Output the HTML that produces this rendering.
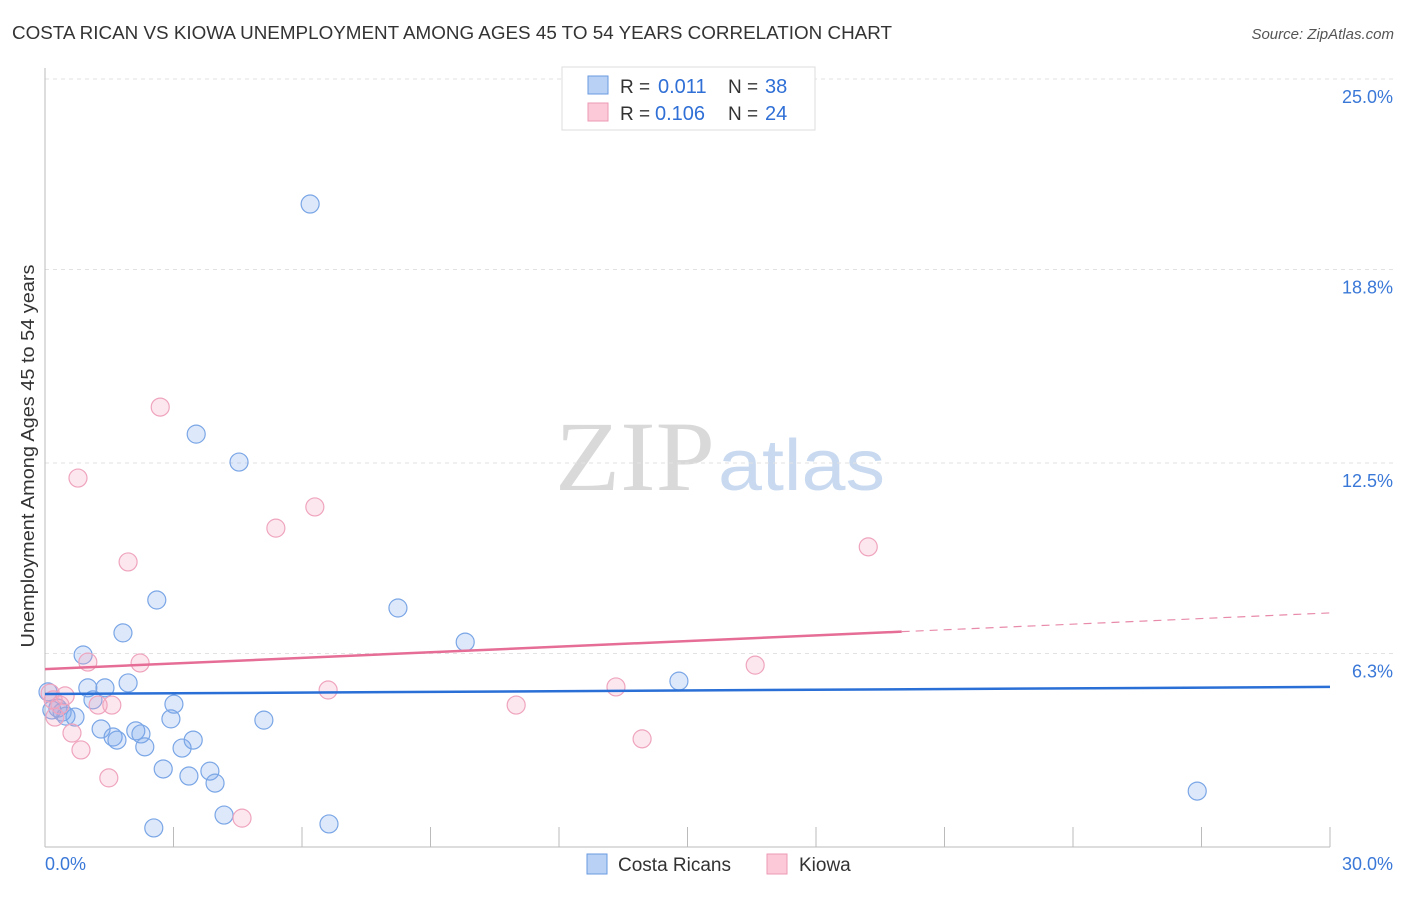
<!DOCTYPE html>
<html><head><meta charset="utf-8"><style>
body{margin:0;background:#fff;font-family:"Liberation Sans",sans-serif;}
svg text{font-family:"Liberation Sans",sans-serif;}
</style></head><body>
<svg width="1406" height="892" xmlns="http://www.w3.org/2000/svg">
<text x="12" y="39" font-size="18" fill="#333" textLength="880" lengthAdjust="spacingAndGlyphs">COSTA RICAN VS KIOWA UNEMPLOYMENT AMONG AGES 45 TO 54 YEARS CORRELATION CHART</text>
<text x="1394" y="39" font-size="15" fill="#555" font-style="italic" text-anchor="end">Source: ZipAtlas.com</text>
<g>
<text x="555" y="490" font-size="100" fill="#d9d9d9" style="font-family:'Liberation Serif',serif" textLength="160" lengthAdjust="spacingAndGlyphs">ZIP</text>
<text x="718" y="490" font-size="72" fill="#c9daf0" textLength="167" lengthAdjust="spacingAndGlyphs">atlas</text>
</g>
<g id="grid"></g>
<g id="axes"></g>
<g id="marks"></g>
<text transform="translate(34,456) rotate(-90)" font-size="18" fill="#333" text-anchor="middle" textLength="383" lengthAdjust="spacingAndGlyphs">Unemployment Among Ages 45 to 54 years</text>
<g>
<rect x="562" y="67" width="253" height="63" fill="#fff" stroke="#ddd"/>
<rect x="588" y="76" width="20" height="18" fill="#b8d1f5" stroke="#6a9ae0"/>
<rect x="588" y="103" width="20" height="18" fill="#fbc9d8" stroke="#ee9ab6"/>
<text x="620" y="93" font-size="19" fill="#333">R =</text>
<text x="658" y="93" font-size="20" fill="#2f6fd6">0.011</text>
<text x="728" y="93" font-size="19" fill="#333">N =</text>
<text x="765" y="93" font-size="20" fill="#2f6fd6">38</text>
<text x="620" y="120" font-size="19" fill="#333">R =</text>
<text x="655" y="120" font-size="20" fill="#2f6fd6">0.106</text>
<text x="728" y="120" font-size="19" fill="#333">N =</text>
<text x="765" y="120" font-size="20" fill="#2f6fd6">24</text>
</g>
<g>
<rect x="587" y="854" width="20" height="20" fill="#b8d1f5" stroke="#6a9ae0"/>
<text x="618" y="871" font-size="19" fill="#333">Costa Ricans</text>
<rect x="767" y="854" width="20" height="20" fill="#fbc9d8" stroke="#ee9ab6"/>
<text x="799" y="871" font-size="19" fill="#333">Kiowa</text>
</g>
</svg>
<script>
const yTicks=[25.0,18.8,12.5,6.3];
const yTickLabels=["25.0%","18.8%","12.5%","6.3%"];
const xTicks=[0,3,6,9,12,15,18,21,24,27,30];
const blueX=[6.19,3.53,4.53,2.61,8.24,1.82,9.81,0.89,14.80,1.94,1.00,1.40,0.07,3.01,0.16,0.30,0.40,0.49,0.70,1.12,2.94,5.11,1.31,1.59,1.68,2.12,2.24,2.33,3.20,3.46,2.76,3.36,3.85,3.97,4.18,2.54,6.63,26.90];
const blueY=[20.93,13.44,12.53,8.04,7.78,6.97,6.67,6.25,5.40,5.34,5.18,5.18,5.05,4.65,4.46,4.52,4.39,4.26,4.23,4.79,4.17,4.13,3.84,3.58,3.48,3.78,3.68,3.26,3.22,3.48,2.54,2.31,2.47,2.08,1.04,0.62,0.75,1.82];
const pinkX=[2.69,0.77,6.30,5.39,1.94,19.22,1.00,2.22,16.58,6.61,13.33,0.47,11.00,1.24,1.56,0.23,0.63,0.84,13.94,1.49,4.60,0.12,0.19,0.35];
const pinkY=[14.32,12.01,11.07,10.38,9.28,9.77,6.02,5.99,5.92,5.11,5.21,4.92,4.62,4.62,4.62,4.23,3.71,3.16,3.52,2.25,0.94,5.01,4.79,4.62];
const blueTrend=[4.98,0.0077];
const pinkTrend=[5.79,0.061];
const pinkSolidEnd=20;
const NS="http://www.w3.org/2000/svg";
const X0=45,X1=1330,Y0=847,PXY=30.72;
const sx=v=>X0+(X1-X0)*v/30, sy=v=>Y0-v*PXY;
function mk(t,a,p){const e=document.createElementNS(NS,t);for(const k in a)e.setAttribute(k,a[k]);p.appendChild(e);return e;}
const grid=document.getElementById('grid'),axes=document.getElementById('axes'),marks=document.getElementById('marks');
yTicks.forEach((v,i)=>{
 const l=mk('line',{x1:X0,x2:1395,y1:sy(v),y2:sy(v),stroke:'#e2e2e2','stroke-dasharray':'4,4'},grid);
 
 
 const t=mk('text',{x:1393,y:sy(v)+24,'font-size':18,fill:'#3a78d8','text-anchor':'end'},grid);
 t.textContent=yTickLabels[i];
 
 
});
const xa=mk('line',{x1:X0,x2:X1,y1:Y0,y2:Y0,stroke:'#bbb'},axes);


const ya=mk('line',{x1:X0,x2:X0,y1:68,y2:Y0,stroke:'#bbb'},axes);


xTicks.forEach(v=>{
 const l=mk('line',{x1:sx(v),x2:sx(v),y1:827,y2:Y0,stroke:'#bbb'},axes);
 
 
});
const xl0=mk('text',{x:45,y:870,'font-size':18,fill:'#3a78d8'},axes);xl0.textContent='0.0%';


const xl1=mk('text',{x:1393,y:870,'font-size':18,fill:'#3a78d8','text-anchor':'end'},axes);xl1.textContent='30.0%';


blueX.forEach((v,i)=>{
 const c=mk('circle',{cx:sx(v),cy:sy(blueY[i]),r:9,fill:'rgba(120,165,235,0.25)',stroke:'#7aa6e6','stroke-width':1.2},marks);
 
 
});
pinkX.forEach((v,i)=>{
 const c=mk('circle',{cx:sx(v),cy:sy(pinkY[i]),r:9,fill:'rgba(245,160,188,0.25)',stroke:'#efa4be','stroke-width':1.2},marks);
 
 
});
const bt=mk('line',{x1:sx(0),x2:sx(30),y1:sy(blueTrend[0]),y2:sy(blueTrend[0]+blueTrend[1]*30),stroke:'#2a6fd6','stroke-width':2.5},marks);


const pt=mk('line',{x1:sx(0),x2:sx(pinkSolidEnd),y1:sy(pinkTrend[0]),y2:sy(pinkTrend[0]+pinkTrend[1]*pinkSolidEnd),stroke:'#e56d96','stroke-width':2.5},marks);


const pd=mk('line',{x1:sx(pinkSolidEnd),x2:sx(30),y1:sy(pinkTrend[0]+pinkTrend[1]*pinkSolidEnd),y2:sy(pinkTrend[0]+pinkTrend[1]*30),stroke:'#e88aaa','stroke-width':1.2,'stroke-dasharray':'8,6'},marks);


</script>
</body></html>
